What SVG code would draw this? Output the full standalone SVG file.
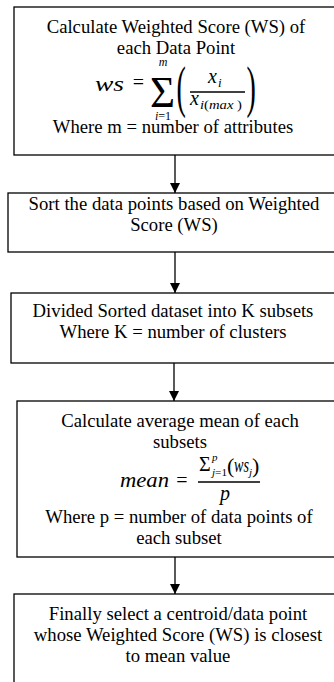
<svg xmlns="http://www.w3.org/2000/svg" width="334" height="682" viewBox="0 0 334 682">
<style>
.box{fill:#fff;stroke:#000;stroke-width:1.3}
.t{font-family:"Liberation Serif","Times New Roman",serif;font-size:18.7px;text-anchor:middle;fill:#000}
.m{font-family:"Liberation Serif","Times New Roman",serif;font-style:italic;fill:#000}
.r{font-family:"Liberation Serif","Times New Roman",serif;font-style:normal;fill:#000}
.conn{stroke:#000;stroke-width:1.3;fill:none}
.bar{stroke:#000;stroke-width:1.3}
</style>
<defs>
<marker id="ah" markerUnits="userSpaceOnUse" markerWidth="10" markerHeight="10" refX="10" refY="5" orient="auto">
<path d="M0,0 L10,5 L0,10 z" fill="#000"/>
</marker>
</defs>
<rect width="334" height="682" fill="#fff"/>
<g id="connectors">
<line class="conn" x1="175" y1="155" x2="175" y2="193" marker-end="url(#ah)"/>
<line class="conn" x1="175" y1="252" x2="175" y2="293" marker-end="url(#ah)"/>
<line class="conn" x1="174" y1="363" x2="174" y2="401" marker-end="url(#ah)"/>
<line class="conn" x1="175" y1="557" x2="175" y2="594" marker-end="url(#ah)"/>
</g>
<g id="node1">
<rect class="box" x="14" y="7" width="330" height="148"/>
<text class="t" x="176" y="33">Calculate Weighted Score (WS) of</text>
<text class="t" x="176" y="54">each Data Point</text>
<text class="m" x="95" y="91" style="font-size:20px" textLength="29" lengthAdjust="spacingAndGlyphs">ws</text>
<text class="r" x="138.5" y="89" style="font-size:20px" text-anchor="middle">=</text>
<text class="r" x="150" y="107" style="font-size:44px" textLength="25" lengthAdjust="spacingAndGlyphs">Σ</text>
<text class="m" x="163" y="66" style="font-size:12px" text-anchor="middle">m</text>
<text class="m" x="163" y="120" style="font-size:12px" text-anchor="middle">i<tspan class="r">=1</tspan></text>
<text class="r" transform="translate(176.5,106) scale(0.5,1)" style="font-size:56px">(</text>
<text class="r" transform="translate(246.5,106) scale(0.5,1)" style="font-size:56px">)</text>
<line class="bar" x1="190" y1="92" x2="245" y2="92"/>
<text class="m" x="208" y="83" style="font-size:20px">x</text>
<text class="m" x="218" y="87" style="font-size:13px">i</text>
<text class="m" x="190" y="105" style="font-size:20px">x</text>
<text class="m" x="200" y="109" style="font-size:13px" textLength="42" lengthAdjust="spacingAndGlyphs">i<tspan class="r">(</tspan>max<tspan class="r"> )</tspan></text>
<text class="t" x="173" y="133">Where m = number of attributes</text>
</g>
<g id="node2">
<rect class="box" x="8" y="193" width="336" height="59"/>
<text class="t" x="174" y="210">Sort the data points based on Weighted</text>
<text class="t" x="174" y="231">Score (WS)</text>
</g>
<g id="node3">
<rect class="box" x="11" y="293" width="333" height="70"/>
<text class="t" x="173" y="317">Divided Sorted dataset into K subsets</text>
<text class="t" x="173" y="338">Where K = number of clusters</text>
</g>
<g id="node4">
<rect class="box" x="17" y="401" width="327" height="156"/>
<text class="t" x="180" y="427">Calculate average mean of each</text>
<text class="t" x="180" y="448">subsets</text>
<text class="m" x="120" y="487" style="font-size:20px" textLength="49" lengthAdjust="spacingAndGlyphs">mean</text>
<text class="r" x="182" y="487" style="font-size:20px" text-anchor="middle">=</text>
<text class="r" x="199" y="471" style="font-size:20px">Σ</text>
<text class="m" x="212" y="461" style="font-size:11px">p</text>
<text class="m" x="212" y="476" style="font-size:11px" textLength="15" lengthAdjust="spacingAndGlyphs">j<tspan class="r">=1</tspan></text>
<text class="r" x="227" y="473" style="font-size:22px">(</text>
<text class="m" x="234" y="472" style="font-size:20px" textLength="15" lengthAdjust="spacingAndGlyphs">ws</text>
<text class="m" x="249" y="476" style="font-size:11px">j</text>
<text class="r" x="252" y="473" style="font-size:22px">)</text>
<line class="bar" x1="198" y1="482" x2="260" y2="482"/>
<text class="m" x="225" y="500" style="font-size:20px" text-anchor="middle">p</text>
<text class="t" x="179" y="523">Where p = number of data points of</text>
<text class="t" x="179" y="544">each subset</text>
</g>
<g id="node5">
<rect class="box" x="14" y="594" width="330" height="100"/>
<text class="t" x="178" y="620">Finally select a centroid/data point</text>
<text class="t" x="178" y="641">whose Weighted Score (WS) is closest</text>
<text class="t" x="178" y="662">to mean value</text>
</g>
</svg>
